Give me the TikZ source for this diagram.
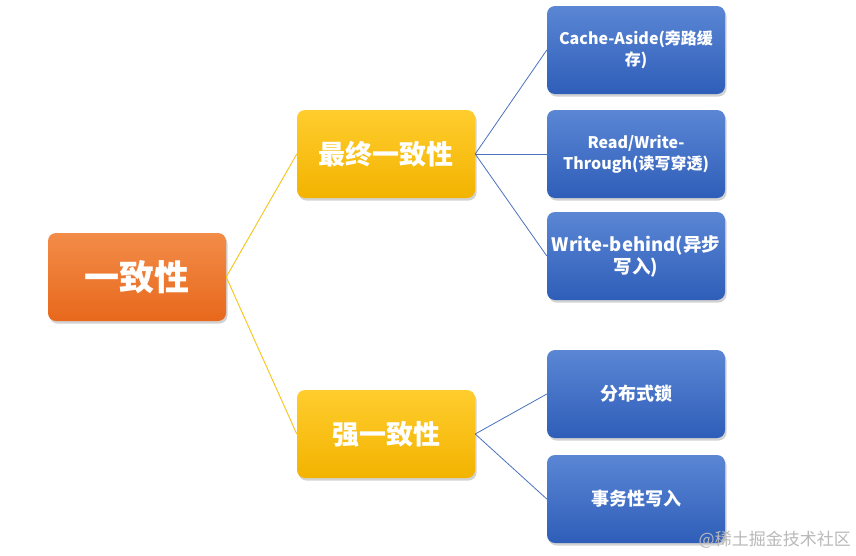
\documentclass[tikz,border=0pt]{standalone}
\usepackage{fontspec}
\setmainfont{Noto Sans CJK SC}
\usetikzlibrary{shadows}
\definecolor{orTop}{HTML}{F28C48}
\definecolor{orBot}{HTML}{E8681C}
\definecolor{yeTop}{HTML}{FFCD2E}
\definecolor{yeBot}{HTML}{F3B300}
\definecolor{blTop}{HTML}{5A86D4}
\definecolor{blBot}{HTML}{2F5EB9}
\definecolor{yline}{HTML}{F5C518}
\definecolor{bline}{HTML}{4A72BE}
\begin{document}
\begin{tikzpicture}[x=1pt,y=-1pt,
  box/.style={rounded corners=8pt, minimum width=178pt, minimum height=88pt,
    inner sep=2pt, align=center, text=white,
    drop shadow={shadow xshift=1.5pt, shadow yshift=-2.5pt, opacity=0.35}},
  rootbox/.style={box, top color=orTop, bottom color=orBot,
    font=\bfseries\fontsize{35}{40}\selectfont},
  midbox/.style={box, top color=yeTop, bottom color=yeBot,
    font=\bfseries\fontsize{27}{32}\selectfont},
  leafbox/.style={box, top color=blTop, bottom color=blBot,
    font=\bfseries\fontsize{16}{21}\selectfont},
  yl/.style={draw=yline, line width=0.9pt},
  bl/.style={draw=bline, line width=0.8pt}]
\fill[white] (0,0) rectangle (856,555);
\useasboundingbox (0,0) rectangle (856,555);

\node[rootbox] (root) at (137,277) {一致性};
\node[midbox] (ev) at (386,154) {最终一致性};
\node[midbox] (st) at (386,434) {强一致性};

\node[leafbox] (l1) at (636,50) {Cache-Aside(旁路缓\\存)};
\node[leafbox] (l2) at (636,154) {Read/Write-\\Through(读写穿透)};
\node[leafbox, font=\bfseries\fontsize{18.5}{22}\selectfont] (l3) at (636,256) {Write-behind(异步\\写入)};
\node[leafbox, font=\bfseries\fontsize{18}{22}\selectfont] (l4) at (636,394) {分布式锁};
\node[leafbox, font=\bfseries\fontsize{18}{22}\selectfont] (l5) at (636,499) {事务性写入};

\draw[yl] (root.east) -- (ev.west);
\draw[yl] (root.east) -- (st.west);
\draw[bl] (ev.east) -- (l1.west);
\draw[bl] (ev.east) -- (l2.west);
\draw[bl] (ev.east) -- (l3.west);
\draw[bl] (st.east) -- (l4.west);
\draw[bl] (st.east) -- (l5.west);

\node[text=gray!55, font=\fontsize{17}{20}\selectfont, anchor=east, inner sep=0pt] (wm) at (851,540) {@稀土掘金技术社区};
\end{tikzpicture}
\end{document}
